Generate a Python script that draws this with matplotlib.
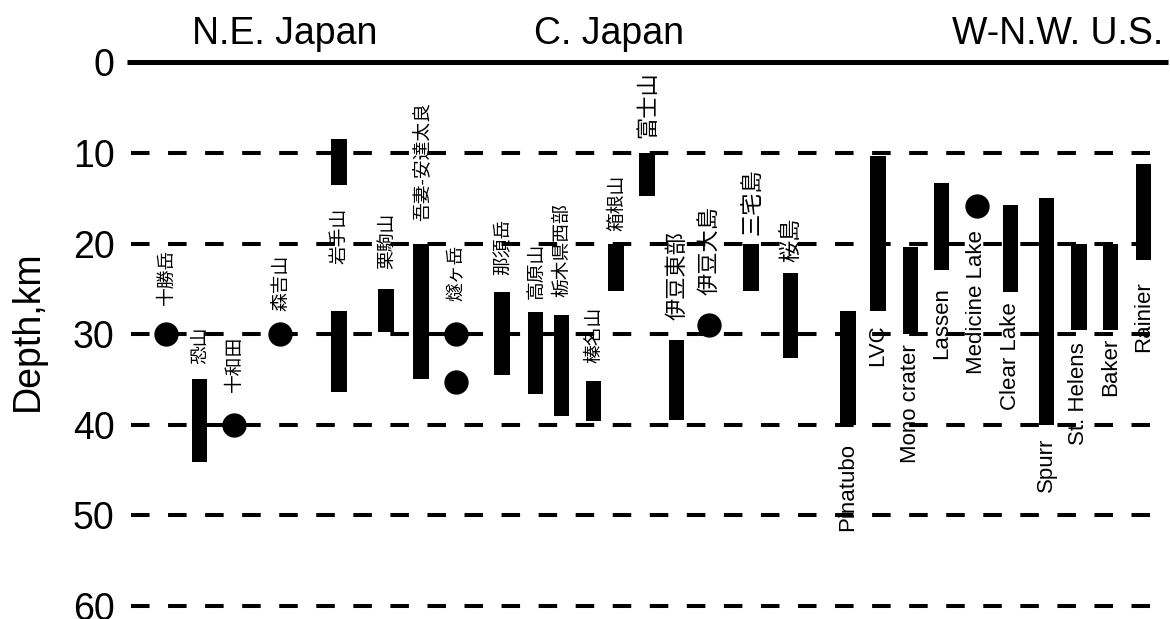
import matplotlib
matplotlib.use('Agg')
import matplotlib.pyplot as plt

plt.rcParams['font.family'] = ['Liberation Sans', 'Noto Sans CJK JP']

# volcano columns, left to right
volcanoes = ['十勝岳', '恐山', '十和田', '森吉山', '岩手山', '栗駒山', '吾妻-安達太良',
             '燧ヶ岳', '那須岳', '高原山', '栃木県西部', '榛名山', '箱根山', '富士山',
             '伊豆東部', '伊豆大島', '三宅島', '桜島',
             'Pinatubo', 'LVC', 'Mono crater', 'Lassen', 'Medicine Lake', 'Clear Lake',
             'Spurr', 'St. Helens', 'Baker', 'Rainier']
col_x = [166, 199.5, 234, 280, 339, 386, 421,
         456, 502, 535.5, 561.5, 593.5, 616, 647,
         676.5, 709, 751, 790.5,
         848, 878, 910.5, 941.5, 977, 1010.5,
         1046.5, 1079, 1110.5, 1143.5]
xpos = dict(zip(volcanoes, col_x))

# depth ranges (km) of the magma bodies
bar_names = ['恐山', '岩手山', '岩手山', '栗駒山', '吾妻-安達太良', '那須岳', '高原山',
             '栃木県西部', '榛名山', '箱根山', '富士山', '伊豆東部', '三宅島', '桜島',
             'Pinatubo', 'LVC', 'Mono crater', 'Lassen', 'Clear Lake', 'Spurr',
             'St. Helens', 'Baker', 'Rainier']
bar_top = [35, 8.4, 27.4, 25.0, 20, 25.3, 27.6,
           27.9, 35.2, 20, 10, 30.6, 20, 23.2,
           27.4, 10.3, 20.4, 13.3, 15.7, 15.0,
           20, 20, 11.2]
bar_bottom = [44.1, 13.5, 36.4, 29.8, 35, 34.5, 36.6,
              39.0, 39.6, 25.2, 14.8, 39.5, 25.2, 32.6,
              40, 27.4, 30, 22.9, 25.3, 40,
              29.5, 29.5, 21.8]

# single depth estimates (km)
dot_names = ['十勝岳', '十和田', '森吉山', '燧ヶ岳', '燧ヶ岳', '伊豆大島', 'Medicine Lake']
dot_depth = [30, 40, 30, 30, 35.3, 29.0, 15.8]

# depth at which each name label starts, and its size
label_depth = [26.8, 33.3, 36.4, 27.4, 22.3, 22.8, 17.5,
               26.3, 23.5, 26.1, 25.9, 33.2, 18.6, 8.3,
               28.4, 25.7, 19.0, 22.0,
               51.8, 33.5, 44.2, 32.8, 34.4, 38.4,
               47.4, 42.3, 36.8, 32.0]
label_size = [13.5, 13.5, 13.5, 13.5, 13.5, 13.5, 13.5,
              13.5, 13.5, 13.5, 13.5, 13.5, 13.5, 16,
              16, 16, 16, 16,
              16, 16, 16, 16, 16, 16,
              16, 16, 16, 16]

regions = ['N.E. Japan', 'C. Japan', 'W-N.W. U.S.']
region_x = [285, 609, 1163]
region_ha = ['center', 'center', 'right']

depth_ticks = [0, 10, 20, 30, 40, 50, 60]

fig = plt.figure(figsize=(11.7, 6.19), dpi=100)
ax = fig.add_axes([127 / 1170, 13.3 / 619, 1043 / 1170, 543.2 / 619])
ax.set_xlim(127, 1170)
ax.set_ylim(60, 0)

for d in depth_ticks:
    if d == 0:
        ax.plot([127, 1168], [d, d], color='k', lw=3.6, solid_capstyle='butt',
                clip_on=False, zorder=2)
    else:
        ax.plot([131, 1165], [d, d], color='k', lw=2.9, ls=(0, (4.6, 4.6)),
                clip_on=False, zorder=2)

bx = [xpos[n] for n in bar_names]
ax.bar(bx, [b - t for t, b in zip(bar_top, bar_bottom)], bottom=bar_top,
       width=15.5, color='k', zorder=3, clip_on=False)

dx = [xpos[n] for n in dot_names]
ax.plot(dx, dot_depth, 'o', color='k', ms=16.5, zorder=4, clip_on=False)

for name, d, fs in zip(volcanoes, label_depth, label_size):
    shift = 0 if name[0].isascii() else 1.5
    ax.text(xpos[name] + shift, d, name, rotation=90, ha='center', va='bottom',
            fontsize=fs, zorder=1, clip_on=False)

for r, x, ha in zip(regions, region_x, region_ha):
    ax.text(x, -2.0, r, ha=ha, va='baseline', fontsize=27, clip_on=False)

ax.set_yticks(depth_ticks)
ax.set_yticklabels([str(d) for d in depth_ticks], fontsize=27)
ax.tick_params(axis='y', length=0, pad=9)
ax.set_xticks([])
for s in ax.spines.values():
    s.set_visible(False)

fig.text(0.0235, 0.465, 'Depth,km', rotation=90, ha='center', va='center', fontsize=27)

fig.savefig('out.png', dpi=100)
